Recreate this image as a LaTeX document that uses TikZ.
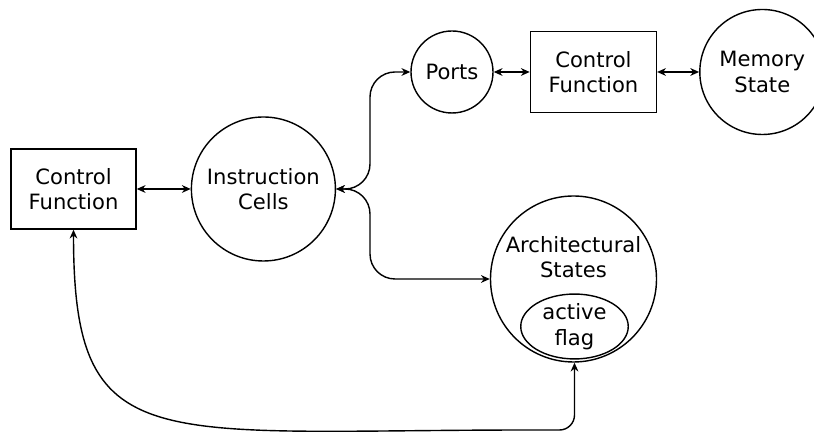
\documentclass[tikz,border=0pt]{standalone}
\usepackage{fontspec}
\setmainfont{DejaVu Sans}
\usepackage{tikz}
\usetikzlibrary{positioning}
\usetikzlibrary{arrows.meta}
\usetikzlibrary{shapes.geometric}
\tikzset{round node/.style={circle,draw,align=center,inner sep=0pt},
	box node/.style={rectangle,draw,align=center,minimum width=2.5cm,minimum height=1.6cm,inner sep=0pt},
	flag node/.style={ellipse,draw,align=center,minimum width=2.15cm,minimum height=1.21cm,inner sep=0pt},}

\begin{document}
\begin{tikzpicture}[<->, >={Stealth[length=5pt,width=4.4pt,inset=1.6pt]}, thick, font=\fontsize{12}{14.5}\selectfont]
		\clip (0,0) rectangle (16.28,8.64);
		\node[box node] (cfL) at (1.47,4.86) {Control\\Function};
	    \node[round node, minimum size=2.88cm] (cells) [right = 1.08cm of cfL] {Instruction\\Cells};
	    \node[round node, minimum size=1.64cm] (ports) at (9.04,7.2) {Ports};
	    \node[box node, minimum width=2.52cm, minimum height=1.62cm] (cfT) [right = 0.72cm of ports] {Control\\Function};
	    \node[round node, minimum size=2.5cm] (mem) [right = 0.84cm of cfT] {Memory\\State};
	    \node[round node, minimum size=3.32cm] (states) at (11.47,3.06) {};
	    \node[align=center] (statesLabel) at ([yshift=0.44cm]states.center) {Architectural\\States};
	    \node[flag node] (flag) at (11.49,2.11) {active\\flag};

	    \coordinate (split) at (7.4,4.86);
	    \coordinate (flagIn) at (flag.south |- states.south);
	    \coordinate (bend) at (10.6,0.04);

	    \path[draw]
	    (cfL) edge (cells)
	    (ports) edge (cfT)
	    (cfT) edge (mem);

	    \draw[rounded corners=0.5cm] (cells.east) -- (split) |- (ports.west);
	    \draw[rounded corners=0.5cm] (cells.east) -- (split) |- (states.west);
	    \draw (cfL.south) .. controls +(0,-4.6) and +(-7.6,0) .. (bend) [rounded corners=0.3cm] -| (flagIn);
\end{tikzpicture}
\end{document}
